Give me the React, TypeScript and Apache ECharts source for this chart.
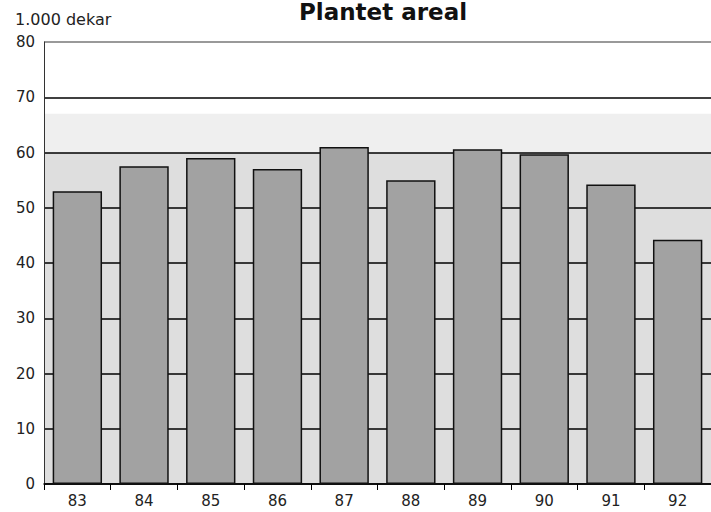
import React, { useEffect, useRef } from "react";
import * as echarts from "echarts";

const categories = ["83", "84", "85", "86", "87", "88", "89", "90", "91", "92"];
const values = [53, 57.5, 59, 57, 61, 55, 60.6, 59.7, 54.2, 44.2];
const yTicks = { min: 0, max: 80, interval: 10 };
const titleText = "Plantet areal";
const unitText = "1.000 dekar";

const FONT = "DejaVu Sans, Liberation Sans, Arial, sans-serif";

export default function App() {
  const ref = useRef<HTMLDivElement>(null);
  useEffect(() => {
    if (!ref.current) return;
    const chart = echarts.init(ref.current, undefined, { renderer: "svg" });
    chart.setOption({
      animation: false,
      backgroundColor: "#ffffff",
      textStyle: { fontFamily: FONT },
      graphic: [
        {
          type: "text",
          x: 383,
          y: 0,
          z: 10,
          style: {
            text: titleText,
            fontSize: 23,
            lineHeight: 24,
            fontWeight: "bold",
            fill: "#111",
            fontFamily: FONT,
            align: "center",
            verticalAlign: "top",
          },
        },
        {
          type: "text",
          x: 15,
          y: 19.5,
          z: 10,
          style: {
            text: unitText,
            fontSize: 16,
            fill: "#222",
            fontFamily: FONT,
            align: "left",
            verticalAlign: "middle",
          },
        },
      ],
      grid: { left: 44, top: 42, bottom: 28, right: -13, containLabel: false },
      xAxis: {
        type: "category",
        data: categories,
        axisLine: { show: true, lineStyle: { color: "#000", width: 1.5 } },
        axisTick: { show: true, length: 6, lineStyle: { color: "#000", width: 1 } },
        axisLabel: { fontSize: 15, color: "#222", margin: 9, fontFamily: FONT },
        z: 2,
      },
      yAxis: {
        type: "value",
        min: yTicks.min,
        max: yTicks.max,
        interval: yTicks.interval,
        axisLine: { show: true, lineStyle: { color: "#333", width: 1 } },
        axisTick: { show: false },
        axisLabel: { fontSize: 15, color: "#222", margin: 9, fontFamily: FONT },
        splitLine: {
          show: true,
          lineStyle: { color: ["#000", "#000", "#000", "#000", "#000", "#000", "#000", "#000", "#777"], width: 1.5 },
        },
        z: 2,
      },
      series: [
        {
          type: "bar",
          data: values,
          z: 3,
          barCategoryGap: "26%",
          itemStyle: { color: "#a2a2a2", borderColor: "#111", borderWidth: 1.5 },
          markArea: {
            silent: true,
            z: 1,
            label: { show: false },
            data: [
              [{ yAxis: 0, itemStyle: { color: "#dedede" } }, { yAxis: 60 }],
              [{ yAxis: 60, itemStyle: { color: "#efefef" } }, { yAxis: 67 }],
            ],
          },
        },
      ],
    });
    return () => chart.dispose();
  }, []);
  return <div ref={ref} style={{ width: 711, height: 512, position: "absolute", left: 0, top: 0 }} />;
}
